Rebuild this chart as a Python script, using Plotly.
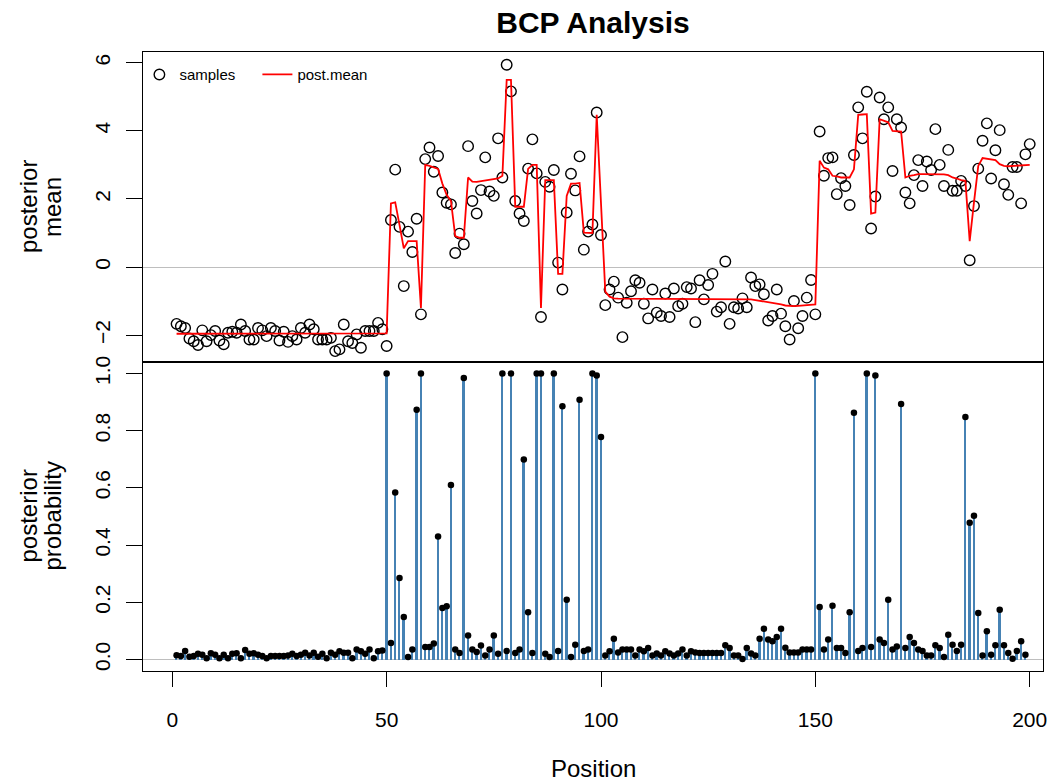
import plotly.graph_objects as go

# ---- data -------------------------------------------------------------
position = list(range(1, 201))

samples = [
    -1.67, -1.74, -1.79, -2.10, -2.18, -2.29, -1.86, -2.18, -2.00, -1.88,
    -2.16, -2.27, -1.93, -1.90, -1.93, -1.69, -1.88, -2.13, -2.13, -1.79,
    -1.86, -2.03, -1.79, -1.88, -2.16, -1.90, -2.20, -2.03, -2.13, -1.79,
    -1.93, -1.69, -1.83, -2.13, -2.13, -2.13, -2.08, -2.47, -2.42, -1.69,
    -2.18, -2.23, -1.98, -2.37, -1.88, -1.88, -1.88, -1.64, -1.83, -2.32,
    1.38, 2.86, 1.18, -0.56, 1.04, 0.44, 1.42, -1.39, 3.17, 3.51,
    2.80, 3.26, 2.19, 1.89, 1.84, 0.41, 0.98, 0.67, 3.55, 1.94,
    1.57, 2.26, 3.22, 2.22, 2.09, 3.78, 2.63, 5.94, 5.16, 1.94,
    1.57, 1.35, 2.89, 3.75, 2.75, -1.47, 2.50, 2.36, 2.85, 0.13,
    -0.66, 1.60, 2.74, 2.25, 3.25, 0.51, 1.04, 1.25, 4.54, 0.94,
    -1.12, -0.66, -0.43, -0.90, -2.06, -1.05, -0.71, -0.39, -0.46, -1.08,
    -1.51, -0.66, -1.34, -1.44, -0.78, -1.47, -0.63, -1.15, -1.08, -0.59,
    -0.63, -1.62, -0.39, -0.95, -0.53, -0.20, -1.31, -1.18, 0.16, -1.67,
    -1.18, -1.22, -0.92, -1.18, -0.31, -0.56, -0.51, -0.80, -1.57, -1.44,
    -0.66, -1.37, -1.74, -2.13, -1.00, -1.80, -1.44, -0.90, -0.38, -1.39,
    3.98, 2.68, 3.20, 3.22, 2.14, 2.61, 2.38, 1.82, 3.29, 4.69,
    3.78, 5.15, 1.13, 2.07, 4.98, 4.34, 4.69, 2.82, 4.34, 4.10,
    2.19, 1.87, 2.70, 3.14, 2.38, 3.10, 2.85, 4.05, 3.00, 2.38,
    3.44, 2.24, 2.24, 2.53, 2.38, 0.20, 1.79, 2.89, 3.71, 4.22,
    2.60, 3.43, 4.02, 2.43, 2.12, 2.94, 2.94, 1.87, 3.31, 3.61,
]

post_mean = [
    -1.96, -1.96, -1.96, -1.96, -1.96, -1.96, -1.96, -1.96, -1.96, -1.96,
    -1.96, -1.96, -1.96, -1.96, -1.96, -1.96, -1.96, -1.96, -1.96, -1.96,
    -1.96, -1.96, -1.96, -1.96, -1.96, -1.96, -1.96, -1.96, -1.96, -1.96,
    -1.96, -1.96, -1.96, -1.96, -1.96, -1.96, -1.96, -1.96, -1.96, -1.96,
    -1.96, -1.96, -1.96, -1.96, -1.96, -1.96, -1.96, -1.95, -1.95, -1.95,
    1.87, 1.90, 1.24, 0.55, 0.76, 0.76, 0.76, -1.20, 3.00, 2.97,
    2.92, 2.88, 2.45, 2.12, 1.94, 0.91, 0.86, 0.86, 2.63, 2.51,
    2.50, 2.52, 2.54, 2.56, 2.57, 2.60, 2.68, 5.50, 5.50, 1.77,
    1.77, 1.77, 2.88, 3.00, 3.00, -1.20, 2.55, 2.55, 2.55, -0.20,
    -0.20, 2.09, 2.45, 2.45, 2.47, 1.01, 1.01, 1.00, 4.47, 1.80,
    -0.72, -0.87, -0.92, -0.93, -0.93, -0.93, -0.93, -0.93, -0.93, -0.93,
    -0.93, -0.93, -0.93, -0.93, -0.93, -0.93, -0.93, -0.93, -0.93, -0.93,
    -0.93, -0.93, -0.93, -0.93, -0.93, -0.93, -0.93, -0.93, -0.93, -0.93,
    -0.93, -0.93, -0.93, -0.93, -0.95, -0.97, -0.99, -1.00, -1.02, -1.05,
    -1.07, -1.10, -1.13, -1.15, -1.15, -1.14, -1.13, -1.12, -1.11, -1.10,
    3.12, 2.92, 2.87, 2.68, 2.66, 2.63, 2.63, 2.63, 2.87, 4.47,
    4.48, 4.49, 1.57, 1.60, 4.34, 4.30, 4.25, 4.00, 4.00, 3.98,
    2.63, 2.68, 2.70, 2.73, 2.73, 2.73, 2.73, 2.73, 2.72, 2.72,
    2.70, 2.63, 2.60, 2.55, 2.53, 0.76, 1.90, 2.97, 3.20, 3.18,
    3.15, 3.14, 3.02, 2.97, 2.96, 2.97, 2.98, 2.98, 2.99, 3.00,
]

post_prob = [
    0.015, 0.012, 0.030, 0.010, 0.012, 0.020, 0.017, 0.005, 0.022, 0.017,
    0.005, 0.017, 0.005, 0.020, 0.022, 0.005, 0.033, 0.020, 0.022, 0.017,
    0.012, 0.005, 0.012, 0.012, 0.012, 0.012, 0.014, 0.020, 0.012, 0.017,
    0.024, 0.014, 0.024, 0.010, 0.020, 0.005, 0.024, 0.017, 0.029, 0.024,
    0.024, 0.005, 0.035, 0.029, 0.020, 0.035, 0.005, 0.029, 0.032, 1.000,
    0.058, 0.584, 0.285, 0.149, 0.009, 0.035, 0.873, 1.000, 0.044, 0.044,
    0.056, 0.430, 0.180, 0.186, 0.610, 0.035, 0.023, 0.984, 0.084, 0.035,
    0.026, 0.049, 0.014, 0.035, 0.084, 0.020, 1.000, 0.030, 1.000, 0.023,
    0.035, 0.699, 0.165, 0.023, 1.000, 1.000, 0.020, 0.009, 1.000, 0.030,
    0.885, 0.209, 0.009, 0.052, 0.908, 0.030, 0.035, 1.000, 0.993, 0.778,
    0.014, 0.029, 0.073, 0.025, 0.035, 0.035, 0.035, 0.014, 0.035, 0.029,
    0.040, 0.014, 0.021, 0.014, 0.029, 0.021, 0.014, 0.021, 0.035, 0.014,
    0.029, 0.025, 0.023, 0.023, 0.023, 0.023, 0.023, 0.023, 0.050, 0.040,
    0.014, 0.014, 0.002, 0.040, 0.021, 0.014, 0.073, 0.108, 0.070, 0.064,
    0.079, 0.108, 0.041, 0.025, 0.025, 0.025, 0.035, 0.035, 0.035, 1.000,
    0.184, 0.035, 0.070, 0.188, 0.040, 0.040, 0.023, 0.165, 0.863, 0.030,
    0.040, 1.000, 0.044, 0.993, 0.070, 0.058, 0.209, 0.035, 0.046, 0.893,
    0.040, 0.079, 0.058, 0.035, 0.030, 0.014, 0.014, 0.050, 0.040, 0.009,
    0.087, 0.052, 0.030, 0.052, 0.848, 0.478, 0.503, 0.163, 0.014, 0.099,
    0.017, 0.050, 0.174, 0.050, 0.023, 0.003, 0.030, 0.064, 0.017, None,
]

mean_ticks = [-2, 0, 2, 4, 6]
mean_tick_text = ["\u22122", "0", "2", "4", "6"]
prob_ticks = [0.0, 0.2, 0.4, 0.6, 0.8, 1.0]
prob_tick_text = ["0.0", "0.2", "0.4", "0.6", "0.8", "1.0"]
pos_ticks = [0, 50, 100, 150, 200]

assert len(samples) == len(post_mean) == len(post_prob) == len(position)

# ---- figure -----------------------------------------------------------
FONT = "Liberation Sans, Arial, Helvetica, sans-serif"
W, H = 1061, 783
ML, MR, MT, MB = 143, 18, 52, 112
PW, PH = W - ML - MR, H - MT - MB
split = 309 / PH  # boundary between the two panels (paper fraction)

fig = go.Figure()

# upper panel: observations and posterior means
fig.add_trace(go.Scatter(
    x=position, y=samples, mode="markers", name="samples",
    marker=dict(symbol="circle-open", size=10.5, color="black",
                line=dict(width=1.4, color="black")),
    xaxis="x2", yaxis="y2",
))
fig.add_trace(go.Scatter(
    x=position, y=post_mean, mode="lines", name="post.mean",
    line=dict(color="red", width=1.8),
    xaxis="x2", yaxis="y2",
))

# lower panel: posterior probability of a change
fig.add_trace(go.Bar(
    x=position, y=post_prob, width=0.42, showlegend=False,
    marker=dict(color="#4682B4", line=dict(width=0)),
    xaxis="x", yaxis="y",
))
fig.add_trace(go.Scatter(
    x=position, y=post_prob, mode="markers", showlegend=False,
    marker=dict(size=6.5, color="black"),
    xaxis="x", yaxis="y",
))

xr = [-6.83, 203.1]
axis_common = dict(showline=True, linecolor="black", linewidth=1,
                   mirror=True, showgrid=False)

fig.update_layout(
    width=W, height=H,
    margin=dict(l=ML, r=MR, t=MT, b=MB, pad=0),
    paper_bgcolor="white", plot_bgcolor="white",
    font=dict(family=FONT, color="black"),
    bargap=0,
    title=dict(text="<b>BCP Analysis</b>", x=0.5, xanchor="center",
               xref="paper", y=1 - 22 / H, yref="container", yanchor="middle",
               font=dict(size=30, family=FONT, color="black")),
    xaxis=dict(domain=[0, 1], range=xr, anchor="y", zeroline=False,
               ticks="outside", ticklen=15, tickwidth=1, tickcolor="black",
               tickvals=pos_ticks, ticktext=[str(v) for v in pos_ticks],
               tickfont=dict(size=21), ticklabelstandoff=15, **axis_common),
    yaxis=dict(domain=[0, split], range=[-0.04, 1.04], anchor="x",
               zeroline=True, zerolinecolor="#BEBEBE", zerolinewidth=1,
               ticks="outside", ticklen=16, tickwidth=1, tickcolor="black",
               tickvals=prob_ticks, ticktext=prob_tick_text, tickangle=-90,
               tickfont=dict(size=21), ticklabelstandoff=8, **axis_common),
    xaxis2=dict(domain=[0, 1], range=xr, anchor="y2", matches="x",
                zeroline=False, showticklabels=False, ticks="",
                **axis_common),
    yaxis2=dict(domain=[split, 1], range=[-2.79, 6.316], anchor="x2",
                zeroline=True, zerolinecolor="#BEBEBE", zerolinewidth=1,
                ticks="outside", ticklen=16, tickwidth=1, tickcolor="black",
                tickvals=mean_ticks, ticktext=mean_tick_text, tickangle=-90,
                tickfont=dict(size=21), ticklabelstandoff=8, **axis_common),
    legend=dict(orientation="h", x=-0.004, xanchor="left",
                y=0.99, yanchor="top", bgcolor="rgba(0,0,0,0)",
                borderwidth=0, font=dict(size=15, family=FONT),
                entrywidth=73, entrywidthmode="pixels", itemwidth=30),
    showlegend=True,
)

# axis titles, one annotation per text line
label_font = dict(size=24, family=FONT, color="black")


def side_label(lines, y_center):
    for px, txt in zip((28, 52), lines):
        fig.add_annotation(text=txt, textangle=-90,
                           x=(px - ML) / PW, xref="paper", xanchor="center",
                           y=y_center, yref="paper", yanchor="middle",
                           showarrow=False, font=label_font)


side_label(("posterior", "mean"), (split + 1) / 2)
side_label(("posterior", "probability"), split / 2)
fig.add_annotation(text="Position", x=0.5, xref="paper", xanchor="center",
                   y=-(768 - (H - MB)) / PH, yref="paper", yanchor="middle",
                   showarrow=False, font=label_font)

fig.write_html("out.html")
